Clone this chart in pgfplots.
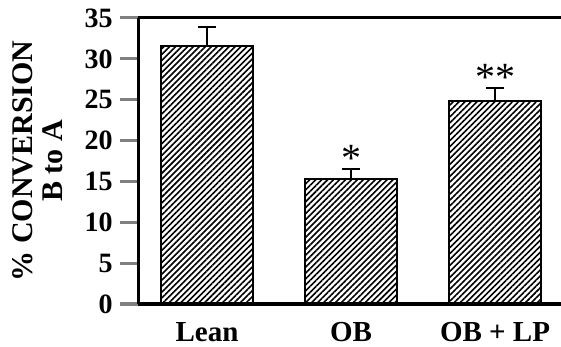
\documentclass[border=0pt]{standalone}
\usepackage{fontspec}
\setmainfont{Liberation Serif}
\usepackage{pgfplots}
\pgfplotsset{compat=1.18}
\usetikzlibrary{patterns.meta}
\begin{document}
\begin{tikzpicture}
\begin{axis}[
  scale only axis,
  width=211.5pt, height=143pt,
  xmin=-0.479, xmax=2.458,
  ymin=0, ymax=35,
  axis x line*=box,
  axis y line*=left,
  axis line style={line width=1.5pt},
  ytick={0,5,...,35},
  ytick pos=left,
  tick align=outside,
  major tick length=9pt,
  ytick style={line width=1.5pt},
  xtick={0,1,2},
  xticklabels={Lean, OB, OB + LP},
  xtick style={draw=none},
  /pgf/number format/assume math mode=true,
  yticklabel style={font=\bfseries\fontsize{14}{16}\selectfont, inner sep=0pt, xshift=-3.5pt},
  xticklabel style={font=\bfseries\fontsize{14.5}{16}\selectfont, inner sep=0pt, yshift=0pt},
  ylabel={\% CONVERSION\\B to A},
  ylabel style={font=\bfseries\fontsize{15}{15}\selectfont, align=center, inner sep=0pt,
    at={(axis description cs:-0.177,0.5)}, anchor=south},
  clip=false,
]
\addplot[ybar, bar width=46pt, bar shift=0pt, draw=black, line width=1pt,
  pattern={Lines[angle=45, distance=2.1pt, line width=0.8pt]}, pattern color=black,
  error bars/.cd, y dir=plus, y explicit,
  error bar style={line width=1pt, solid},
  error mark options={rotate=90, mark size=4.5pt, line width=1pt}]
  coordinates {(0,31.6) +- (0,2.3) (1,15.3) +- (0,1.2) (2,24.8) +- (0,1.6)};
\addplot[draw=none, mark=none, nodes near coords, point meta=explicit symbolic,
  every node near coord/.append style={anchor=base, inner sep=0pt, yshift=-1pt,
    font=\fontsize{20}{20}\selectfont}]
  coordinates {(1,16.5) [*] (2,26.4) [**]};
\coordinate (O) at (rel axis cs:0,0);
\coordinate (T) at (rel axis cs:1,1);
\end{axis}
\pgfresetboundingbox
\path ([xshift=-69pt,yshift=-21.5pt]O) rectangle ([yshift=9pt]T);
\end{tikzpicture}
\end{document}
